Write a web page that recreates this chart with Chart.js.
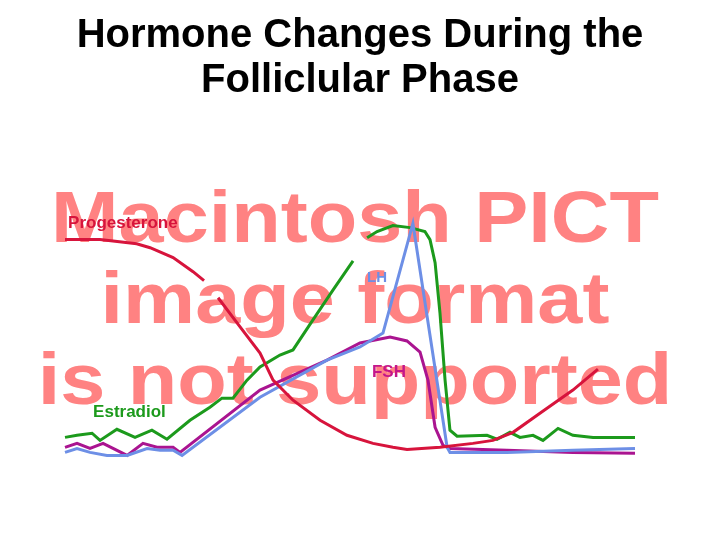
<!DOCTYPE html>
<html>
<head>
<meta charset="utf-8">
<title>Hormone Changes During the Folliclular Phase</title>
<script src="https://cdn.jsdelivr.net/npm/chart.js@4.4.1/dist/chart.umd.min.js"></script>
<style>
  body { margin: 0; background: #ffffff; }
  canvas { display: block; }
</style>
</head>
<body>
<canvas id="myChart" width="720" height="540"></canvas>
<script>
// Title lines and the placeholder text of the old slide
var titleLines = ["Hormone Changes During the", "Folliclular Phase"];
var pictLines = ["Macintosh PICT", "image format", "is not supported"];

// Day of cycle and relative level (null = break in the line)
var progesteroneDay = [0, 1.72, 3.52, 4.18, 5.31, 6.29, 6.83, 7.1, 7.52, 8.6, 9.58, 10.22, 11.2, 12.53, 13.85, 15.13, 16.11, 16.8, 18.42, 20.04, 21.02, 22.01, 23.33, 24.95, 26.18];
var progesteroneLevel = [93.5, 93.5, 91.7, 90.0, 85.7, 79.6, 75.7, null, 68.3, 55.7, 44.3, 32.6, 23.9, 15.2, 8.7, 5.2, 3.5, 2.6, 3.5, 5.2, 6.5, 10.0, 18.3, 28.3, 37.4];

var estradiolDay = [0, 0.59, 1.33, 1.72, 2.55, 3.44, 4.27, 5.01, 6.14, 7.12, 7.71, 8.25, 8.94, 9.58, 10.56, 11.2, 12.18, 13.17, 14.15, 14.5, 14.84, 15.33, 16.11, 16.95, 17.68, 17.93, 18.18, 18.42, 18.67, 18.91, 19.26, 20.73, 21.22, 21.86, 22.35, 22.99, 23.48, 24.22, 24.95, 25.94, 28];
var estradiolLevel = [7.8, 8.7, 9.6, 6.5, 11.3, 7.8, 10.9, 7.0, 15.2, 20.9, 24.8, 24.8, 32.6, 38.3, 43.5, 45.7, 58.7, 71.7, 84.3, null, 94.3, 97.0, 99.6, 98.7, 97.0, 93.5, 83.5, 61.7, 32.6, 10.9, 8.3, 8.7, 7.0, 10.0, 7.8, 8.7, 6.5, 11.7, 8.7, 7.8, 7.8];

var lhDay = [0, 0.59, 1.23, 2.06, 3.05, 4.03, 4.67, 5.31, 5.75, 9.58, 12.87, 14.49, 15.62, 17.09, 18.77, 18.91, 21.71, 24.95, 28];
var lhLevel = [1.3, 3.0, 1.3, 0, 0, 3.0, 2.2, 2.2, 0, 25.2, 41.3, 47.0, 53.0, 100.5, 3.5, 1.3, 1.3, 2.2, 3.0];

var fshDay = [0, 0.59, 1.23, 1.87, 3.05, 3.83, 4.52, 5.31, 5.65, 9.58, 12.87, 14.49, 15.97, 16.8, 17.44, 17.83, 18.18, 18.57, 18.91, 21.71, 24.95, 28];
var fshLevel = [3.5, 5.2, 3.0, 5.2, 0, 5.2, 3.5, 3.5, 1.3, 28.3, 41.3, 48.7, 51.3, 49.6, 44.8, 32.6, 12.2, 4.3, 3.0, 2.2, 1.3, 0.9];

// Text labels that sit next to each curve
var seriesNames = ["Progesterone", "LH", "FSH", "Estradiol"];

function toPoints(days, levels) {
    return days.map(function (d, i) {
        return { x: d, y: levels[i] };
    });
}

// draws the title, the pink placeholder text and the curve names
var slideText = {
    id: 'slideText',
    beforeDatasetsDraw: function (chart) {
        var ctx = chart.ctx;
        ctx.save();
        ctx.fillStyle = 'rgb(255,130,130)';
        ctx.font = 'bold 73px "Liberation Sans", Arial, sans-serif';
        ctx.textAlign = 'center';
        ctx.textBaseline = 'alphabetic';
        var base = [242, 323, 404];
        for (var i = 0; i < pictLines.length; i++) {
            ctx.save();
            ctx.translate(355, base[i]);
            ctx.scale(1.11, 1); // the old picture was stretched sideways
            ctx.fillText(pictLines[i], 0, 0);
            ctx.restore();
        }
        ctx.restore();
    },
    afterDraw: function (chart) {
        var ctx = chart.ctx;
        var xs = chart.scales.x, ys = chart.scales.y;
        ctx.save();
        ctx.fillStyle = '#000000';
        ctx.font = 'bold 40px "Liberation Sans", Arial, sans-serif';
        ctx.textAlign = 'center';
        ctx.textBaseline = 'alphabetic';
        ctx.fillText(titleLines[0], 360, 47);
        ctx.fillText(titleLines[1], 360, 92);

        var spots = [
            { day: 0.15, level: 98.4, color: '#d7143c', size: 17 },
            { day: 14.84, level: 75.0, color: '#6d8fe6', size: 15 },
            { day: 15.08, level: 33.8, color: '#c4168a', size: 17 },
            { day: 1.38, level: 16.5, color: '#1c9a1c', size: 17 }
        ];
        ctx.textAlign = 'left';
        for (var j = 0; j < seriesNames.length; j++) {
            ctx.fillStyle = spots[j].color;
            ctx.font = 'bold ' + spots[j].size + 'px "Liberation Sans", Arial, sans-serif';
            ctx.fillText(seriesNames[j], xs.getPixelForValue(spots[j].day), ys.getPixelForValue(spots[j].level));
        }
        ctx.restore();
    }
};

function BuildChart() {
    var ctx = document.getElementById("myChart").getContext('2d');
    var myChart = new Chart(ctx, {
        type: 'line',
        data: {
            datasets: [{
                label: seriesNames[0],
                data: toPoints(progesteroneDay, progesteroneLevel),
                borderColor: '#d7143c'
            }, {
                label: seriesNames[1],
                data: toPoints(lhDay, lhLevel),
                borderColor: '#6d8fe6'
            }, {
                label: seriesNames[2],
                data: toPoints(fshDay, fshLevel),
                borderColor: '#aa1490'
            }, {
                label: seriesNames[3],
                data: toPoints(estradiolDay, estradiolLevel),
                borderColor: '#1c9a1c'
            }]
        },
        options: {
            responsive: false,
            animation: false,
            spanGaps: false,
            clip: false,
            layout: { padding: { left: 65, right: 85, top: 220, bottom: 80 } },
            elements: {
                line: { borderWidth: 3, tension: 0, fill: false },
                point: { radius: 0 }
            },
            scales: {
                x: { type: 'linear', display: false, min: 0, max: 28 },
                y: { display: false, min: -2, max: 102 }
            },
            plugins: {
                legend: { display: false },
                tooltip: { enabled: false },
                title: { display: false }
            }
        },
        plugins: [slideText]
    });
    return myChart;
}

window.onload = function () {
    BuildChart();
};
</script>
</body>
</html>
